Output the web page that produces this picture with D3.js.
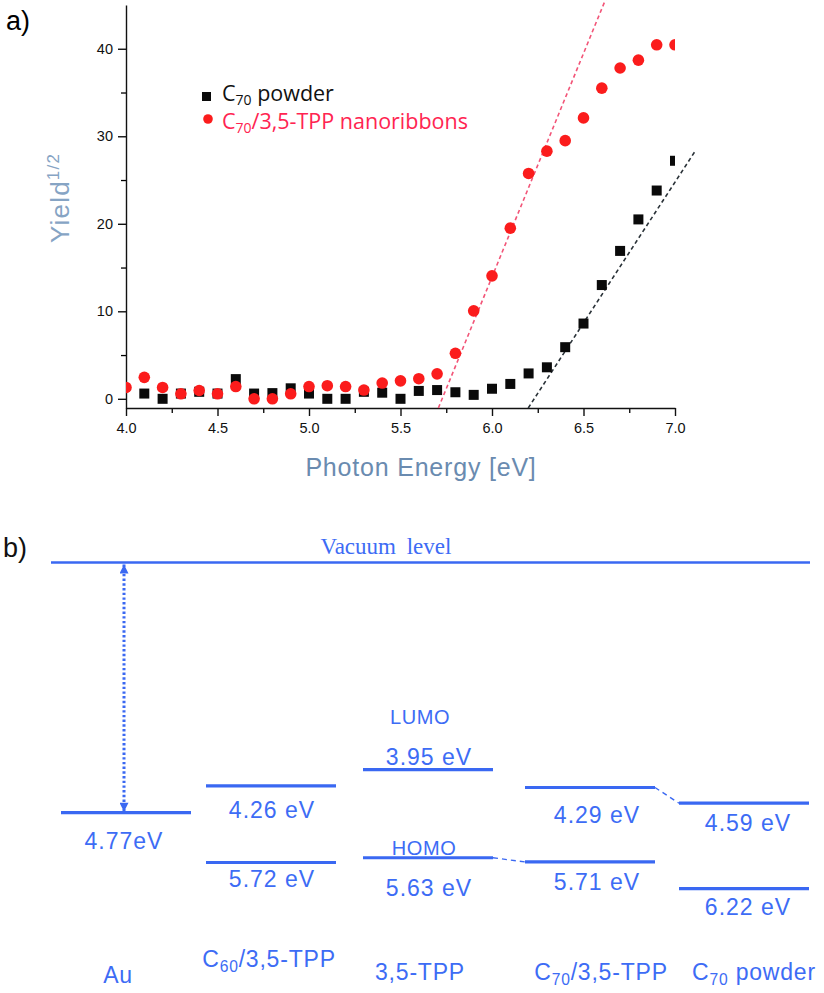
<!DOCTYPE html>
<html>
<head>
<meta charset="utf-8">
<script src="https://cdn.jsdelivr.net/npm/d3@7"></script>
<style>
body { margin: 0; background: #fff; }
svg { font-family: 'Liberation Sans', Arial, sans-serif; }
</style>
</head>
<body>
<div id="chart"></div>
<script>
// ---- panel a: photoelectron yield ----
const energies = [4.0, 4.1, 4.2, 4.3, 4.4, 4.5, 4.6, 4.7, 4.8, 4.9,
                  5.0, 5.1, 5.2, 5.3, 5.4, 5.5, 5.6, 5.7, 5.8, 5.9,
                  6.0, 6.1, 6.2, 6.3, 6.4, 6.5, 6.6, 6.7, 6.8, 6.9, 7.0];
const powderYield = [null, 0.6, 0.0, 0.6, 0.8, 0.6, 2.25, 0.6, 0.65, 1.2,
                     0.6, 0.0, 0.0, 0.8, 0.7, 0.0, 0.9, 1.0, 0.75, 0.45,
                     1.15, 1.7, 2.9, 3.6, 5.9, 8.6, 13.0, 16.9, 20.5, 23.8, 27.2];
const ribbonYield = [1.3, 2.45, 1.3, 0.57, 0.95, 0.57, 1.4, 0.0, 0.0, 0.57,
                     1.4, 1.5, 1.4, 1.0, 1.8, 2.05, 2.3, 2.85, 5.2, 10.05,
                     14.05, 19.5, 25.75, 28.3, 29.5, 32.1, 35.5, 37.8, 38.7, 40.45, 40.45];
const ribbonFit = [[5.707, -1.05], [6.62, 45.6]];
const powderFit = [[6.198, -1.05], [7.11, 28.3]];
const xTicks = [4.0, 4.5, 5.0, 5.5, 6.0, 6.5, 7.0];
const xMinorTicks = [4.25, 4.75, 5.25, 5.75, 6.25, 6.75];
const yTicks = [0, 10, 20, 30, 40];
const yMinorTicks = [5, 15, 25, 35];

// ---- panel b: energy levels ----
const materials = ["Au", "C60/3,5-TPP", "3,5-TPP", "C70/3,5-TPP", "C70 powder"];
const upperLevels = [4.77, 4.26, 3.95, 4.29, 4.59];
const lowerLevels = [null, 5.72, 5.63, 5.71, 6.22];
const upperLabels = ["4.77eV", "4.26 eV", "3.95 eV", "4.29 eV", "4.59 eV"];
const lowerLabels = [null, "5.72 eV", "5.63 eV", "5.71 eV", "6.22 eV"];
const vacuumLevel = 0;

const svg = d3.select("#chart").append("svg")
    .attr("width", 824)
    .attr("height", 993);

class YieldPlot
{
    constructor(_svg)
    {
        this.svg = _svg;
        this.left = 126;
        this.right = 675;
        this.top = 5;
        this.bottom = 408;
        this.init();
    }

    init()
    {
        let vis = this;

        vis.x = d3.scaleLinear().domain([4, 7]).range([vis.left, vis.right]);
        vis.y = d3.scaleLinear().domain([-1.05, 45]).range([vis.bottom, vis.top]);

        vis.svg.append("text")
            .attr("x", 6).attr("y", 30)
            .attr("font-size", 27)
            .text("a)");

        vis.svg.append("clipPath").attr("id", "plotClip")
            .append("rect")
            .attr("x", vis.left).attr("y", 0)
            .attr("width", vis.right - vis.left).attr("height", vis.bottom);

        // minor ticks first
        vis.svg.append("g")
            .attr("transform", `translate(0, ${vis.bottom})`)
            .call(d3.axisBottom(vis.x).tickValues(xMinorTicks).tickSize(5).tickFormat(""))
            .call(g => g.select(".domain").remove())
            .selectAll("line").attr("stroke-width", 1.3);
        vis.svg.append("g")
            .attr("transform", `translate(${vis.left}, 0)`)
            .call(d3.axisLeft(vis.y).tickValues(yMinorTicks).tickSize(5).tickFormat(""))
            .call(g => g.select(".domain").remove())
            .selectAll("line").attr("stroke-width", 1.3);

        let xAxis = vis.svg.append("g")
            .attr("transform", `translate(0, ${vis.bottom})`)
            .call(d3.axisBottom(vis.x).tickValues(xTicks).tickSize(8).tickSizeOuter(0)
                .tickPadding(7).tickFormat(d3.format(".1f")));
        let yAxis = vis.svg.append("g")
            .attr("transform", `translate(${vis.left}, 0)`)
            .call(d3.axisLeft(vis.y).tickValues(yTicks).tickSize(8).tickSizeOuter(0).tickPadding(5));

        [xAxis, yAxis].forEach(a => {
            a.attr("font-family", null);
            a.selectAll("text").attr("font-size", 14.5).attr("fill", "#111");
            a.selectAll("line, path").attr("stroke", "#111").attr("stroke-width", 1.4);
        });

        // axis titles
        vis.svg.append("text")
            .attr("x", 421).attr("y", 476)
            .attr("text-anchor", "middle")
            .attr("font-size", 25)
            .attr("fill", "#6a8bb0")
            .attr("letter-spacing", 0.8)
            .text("Photon Energy [eV]");

        let yl = vis.svg.append("text")
            .attr("transform", "translate(69, 198) rotate(-90)")
            .attr("text-anchor", "middle")
            .attr("font-size", 26)
            .attr("fill", "#86a4c4")
            .attr("letter-spacing", 1.2);
        yl.append("tspan").text("Yield");
        yl.append("tspan").attr("font-size", 17).attr("dy", -10).text("1/2");

        // fit lines
        let line = d3.line().x(d => vis.x(d[0])).y(d => vis.y(d[1]));
        vis.svg.append("path")
            .attr("d", line(ribbonFit))
            .attr("fill", "none")
            .attr("stroke", "#f25578")
            .attr("stroke-width", 1.6)
            .attr("stroke-dasharray", "4,3");
        vis.svg.append("path")
            .attr("d", line(powderFit))
            .attr("fill", "none")
            .attr("stroke", "#2a3238")
            .attr("stroke-width", 1.6)
            .attr("stroke-dasharray", "4,3");

        let marks = vis.svg.append("g").attr("clip-path", "url(#plotClip)");

        let powder = energies.map((e, i) => [e, powderYield[i]]).filter(d => d[1] !== null);
        marks.selectAll(".sq")
            .data(powder)
            .enter().append("rect")
                .attr("class", "sq")
                .attr("x", d => vis.x(d[0]) - 5)
                .attr("y", d => vis.y(d[1]) - 5)
                .attr("width", 10)
                .attr("height", 10)
                .attr("fill", "#0a0a0a");

        let ribbon = energies.map((e, i) => [e, ribbonYield[i]]);
        marks.selectAll(".dot")
            .data(ribbon)
            .enter().append("circle")
                .attr("class", "dot")
                .attr("cx", d => vis.x(d[0]))
                .attr("cy", d => vis.y(d[1]))
                .attr("r", 5.8)
                .attr("fill", "#fb1c1c");

        // legend
        vis.svg.append("rect")
            .attr("x", 202).attr("y", 92).attr("width", 9).attr("height", 9)
            .attr("fill", "#0a0a0a");
        vis.svg.append("circle")
            .attr("cx", 208).attr("cy", 119).attr("r", 4.8)
            .attr("fill", "#fb1c1c");

        let l1 = vis.svg.append("text")
            .attr("x", 222).attr("y", 101)
            .attr("font-size", 21.5)
            .style("font-family", "'Open Sans', sans-serif")
            .attr("fill", "#111");
        l1.append("tspan").text("C");
        l1.append("tspan").attr("font-size", 14).attr("dy", 4).text("70");
        l1.append("tspan").attr("dy", -4).text(" powder");

        let l2 = vis.svg.append("text")
            .attr("x", 222).attr("y", 129)
            .attr("font-size", 21.5)
            .style("font-family", "'Open Sans', sans-serif")
            .attr("fill", "#ff2451");
        l2.append("tspan").text("C");
        l2.append("tspan").attr("font-size", 14).attr("dy", 4).text("70");
        l2.append("tspan").attr("dy", -4).text("/3,5-TPP nanoribbons");
    }
}

class EnergyDiagram
{
    constructor(_svg)
    {
        this.svg = _svg;
        this.lineColor = "#3a68f2";
        this.textColor = "#3d6cf5";
        this.halfWidth = 65;
        this.init();
    }

    subName(sel, name, size)
    {
        let m = name.match(/^C(\d+)(.*)$/);
        if (!m) { sel.text(name); return; }
        sel.append("tspan").text("C");
        sel.append("tspan").attr("font-size", size * 0.68).attr("dy", 5).text(m[1]);
        sel.append("tspan").attr("dy", -5).text(m[2]);
    }

    init()
    {
        let vis = this;

        vis.y = d3.scaleLinear().domain([0, 6.22]).range([562.5, 888.7]);
        vis.x = d3.scaleOrdinal().domain(materials).range([126, 271, 428, 590, 744]);
        // small label nudges relative to the level line
        let upperDy = [36, 32, -5, 36, 28];
        let lowerDy = [null, 25, 38, 28, 26];
        let labelDx = [-2, 1, 1, 7, 4];

        vis.svg.append("text")
            .attr("x", 3).attr("y", 557)
            .attr("font-size", 27)
            .attr("fill", "#111")
            .text("b)");

        // vacuum level
        vis.svg.append("line")
            .attr("x1", 51).attr("x2", 810)
            .attr("y1", vis.y(vacuumLevel)).attr("y2", vis.y(vacuumLevel))
            .attr("stroke", vis.lineColor).attr("stroke-width", 2.6);
        vis.svg.append("text")
            .attr("x", 386).attr("y", vis.y(vacuumLevel) - 9)
            .attr("text-anchor", "middle")
            .style("font-family", "'Liberation Serif', 'Times New Roman', serif")
            .attr("font-size", 23)
            .attr("word-spacing", 5)
            .attr("fill", vis.textColor)
            .text("Vacuum level");

        // work function arrow for Au
        vis.svg.append("defs").append("marker")
            .attr("id", "head")
            .attr("viewBox", "0 0 10 10")
            .attr("refX", 10).attr("refY", 5)
            .attr("markerWidth", 10).attr("markerHeight", 9)
            .attr("markerUnits", "userSpaceOnUse")
            .attr("orient", "auto-start-reverse")
            .append("path")
                .attr("d", "M0,0 L10,5 L0,10 z")
                .attr("fill", vis.lineColor);
        vis.svg.append("line")
            .attr("x1", 124).attr("x2", 124)
            .attr("y1", vis.y(vacuumLevel) + 2).attr("y2", vis.y(upperLevels[0]) - 1)
            .attr("stroke", vis.lineColor)
            .attr("stroke-width", 3)
            .attr("stroke-dasharray", "2.4,2.3")
            .attr("marker-start", "url(#head)")
            .attr("marker-end", "url(#head)");

        let levels = materials.map((m, i) => ({m: m, i: i, upper: upperLevels[i], lower: lowerLevels[i]}));

        vis.svg.selectAll(".upper")
            .data(levels)
            .enter().append("line")
                .attr("class", "upper")
                .attr("x1", d => vis.x(d.m) - vis.halfWidth)
                .attr("x2", d => vis.x(d.m) + vis.halfWidth)
                .attr("y1", d => vis.y(d.upper))
                .attr("y2", d => vis.y(d.upper))
                .attr("stroke", vis.lineColor).attr("stroke-width", 3.2);

        vis.svg.selectAll(".lower")
            .data(levels.filter(d => d.lower !== null))
            .enter().append("line")
                .attr("class", "lower")
                .attr("x1", d => vis.x(d.m) - vis.halfWidth)
                .attr("x2", d => vis.x(d.m) + vis.halfWidth)
                .attr("y1", d => vis.y(d.lower))
                .attr("y2", d => vis.y(d.lower))
                .attr("stroke", vis.lineColor).attr("stroke-width", 3.2);

        vis.svg.selectAll(".upLab")
            .data(levels)
            .enter().append("text")
                .attr("class", "upLab")
                .attr("x", d => vis.x(d.m) + labelDx[d.i])
                .attr("y", d => vis.y(d.upper) + upperDy[d.i])
                .attr("text-anchor", "middle")
                .attr("font-size", 23)
                .attr("letter-spacing", 1)
                .attr("fill", vis.textColor)
                .text(d => upperLabels[d.i]);

        vis.svg.selectAll(".lowLab")
            .data(levels.filter(d => d.lower !== null))
            .enter().append("text")
                .attr("class", "lowLab")
                .attr("x", d => vis.x(d.m) + labelDx[d.i])
                .attr("y", d => vis.y(d.lower) + lowerDy[d.i])
                .attr("text-anchor", "middle")
                .attr("font-size", 23)
                .attr("letter-spacing", 1)
                .attr("fill", vis.textColor)
                .text(d => lowerLabels[d.i]);

        // LUMO / HOMO tags on the 3,5-TPP column
        vis.svg.append("text")
            .attr("x", vis.x("3,5-TPP") - 8).attr("y", vis.y(upperLevels[2]) - 46)
            .attr("text-anchor", "middle")
            .attr("font-size", 20).attr("letter-spacing", 0.6)
            .attr("fill", vis.textColor)
            .text("LUMO");
        vis.svg.append("text")
            .attr("x", vis.x("3,5-TPP") - 4).attr("y", vis.y(lowerLevels[2]) - 3)
            .attr("text-anchor", "middle")
            .attr("font-size", 20).attr("letter-spacing", 0.6)
            .attr("fill", vis.textColor)
            .text("HOMO");

        // dashed connectors
        let links = [
            [[vis.x("3,5-TPP") + vis.halfWidth, lowerLevels[2]], [vis.x("C70/3,5-TPP") - vis.halfWidth, lowerLevels[3]]],
            [[vis.x("C70/3,5-TPP") + vis.halfWidth, upperLevels[3]], [vis.x("C70 powder") - vis.halfWidth, upperLevels[4]]]
        ];
        vis.svg.selectAll(".link")
            .data(links)
            .enter().append("line")
                .attr("class", "link")
                .attr("x1", d => d[0][0]).attr("y1", d => vis.y(d[0][1]))
                .attr("x2", d => d[1][0]).attr("y2", d => vis.y(d[1][1]))
                .attr("stroke", vis.lineColor)
                .attr("stroke-width", 1.4)
                .attr("stroke-dasharray", "5,4");

        // material names
        let nameX = [118, 269, 420, 601, 754];
        let nameY = [983, 967, 980, 980, 980];
        materials.forEach((m, i) => {
            let t = vis.svg.append("text")
                .attr("x", nameX[i]).attr("y", nameY[i])
                .attr("text-anchor", "middle")
                .attr("font-size", 23)
                .attr("letter-spacing", 0.8)
                .attr("fill", vis.textColor);
            vis.subName(t, m, 23);
        });
    }
}

new YieldPlot(svg);
new EnergyDiagram(svg);
</script>
</body>
</html>
